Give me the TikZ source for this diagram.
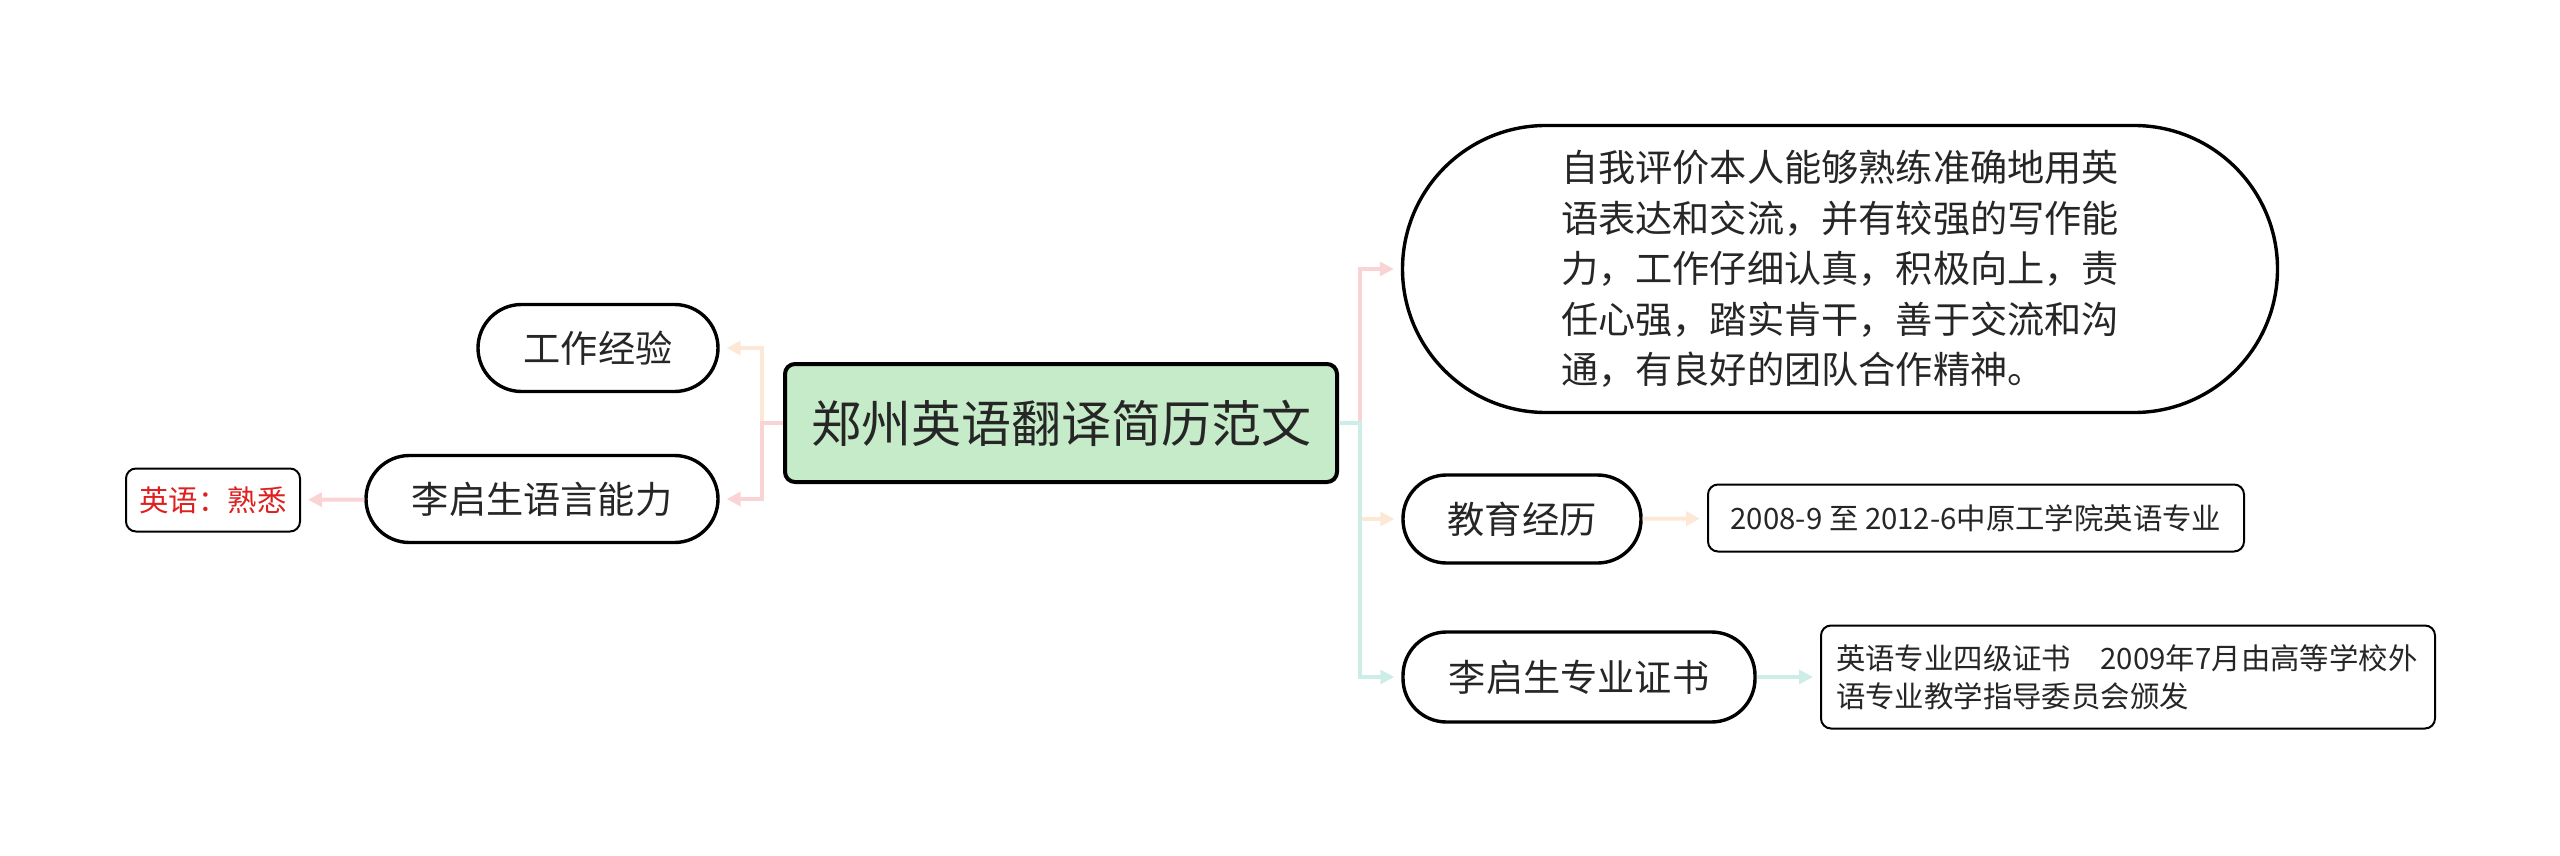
\documentclass[tikz,border=0pt]{standalone}
\usepackage{fontspec}
\setmainfont{Noto Sans CJK SC}
\usepackage{xcolor}
\usetikzlibrary{positioning,arrows.meta,calc}

\definecolor{rootfill}{RGB}{198,235,200}
\definecolor{linkpink}{RGB}{250,212,212}
\definecolor{linkpeach}{RGB}{253,232,214}
\definecolor{linkteal}{RGB}{205,238,230}
\definecolor{leafred}{RGB}{222,32,32}

\begin{document}
\begin{tikzpicture}[
  x=0.5pt, y=-0.5pt,
  root/.style={draw, line width=2pt, fill=rootfill, rounded corners=5pt, minimum width=276pt, minimum height=59pt, inner sep=0pt, text=black!85, font=\fontsize{25}{30}\selectfont},
  topic/.style={draw, line width=1.7pt, rounded corners=21.75pt, minimum height=43.5pt, inner sep=0pt, text=black!85, font=\fontsize{18.6}{25.3}\selectfont},
  leaf/.style={draw, line width=1pt, rounded corners=5pt, inner sep=0pt, text=black!85, font=\fontsize{14.7}{18.8}\selectfont},
  link/.style={line width=2pt, -{Triangle[width=7pt,length=7pt]}, shorten >=3.5pt}
]
\useasboundingbox (0,0) rectangle (2560,856);

\node[root] (cv) at (1061,423) {郑州英语翻译简历范文};

% left side
\node[topic, minimum width=120pt] (work) at (598,348) {工作经验};
\node[topic, minimum width=176pt] (lang) at (542,499) {李启生语言能力};
\node[leaf, minimum width=87pt, minimum height=31.5pt, text=leafred] (eng) at (213,500) {英语：熟悉};

% right side
\node[topic, rounded corners=71.75pt, minimum width=437.5pt, minimum height=143.5pt, align=left] (self) at (1840,269) {自我评价本人能够熟练准确地用英\\语表达和交流，并有较强的写作能\\力，工作仔细认真，积极向上，责\\任心强，踏实肯干，善于交流和沟\\通，有良好的团队合作精神。};
\node[topic, minimum width=119pt, minimum height=44pt] (edu) at (1522,519) {教育经历};
\node[leaf, minimum width=268pt, minimum height=33.5pt] (school) at (1976,518) {2008-9 至 2012-6中原工学院英语专业};
\node[topic, minimum width=176pt, minimum height=45pt] (cert) at (1579,677) {李启生专业证书};
\node[leaf, minimum width=307pt, minimum height=51.5pt, text width=292pt, align=left] (tem) at (2128,677) {英语专业四级证书　2009年7月由高等学校外\\语专业教学指导委员会颁发};

\coordinate (lj) at (762,423);
\coordinate (rj) at (1360,423);

\draw[link, linkpink] (cv.east) -- (rj) |- (self.west);
\draw[link, linkpeach] (rj) |- (edu.west);
\draw[link, linkteal] (cv.east) -- (rj) |- (cert.west);
\draw[link, linkpeach] (cv.west) -- (lj) |- (work.east);
\draw[link, linkpink] (cv.west) -- (lj) |- (lang.east);

\draw[link, linkpink] (lang) -- (eng);
\draw[link, linkpeach] (edu) -- (school);
\draw[link, linkteal] (cert) -- (tem);
\end{tikzpicture}
\end{document}
